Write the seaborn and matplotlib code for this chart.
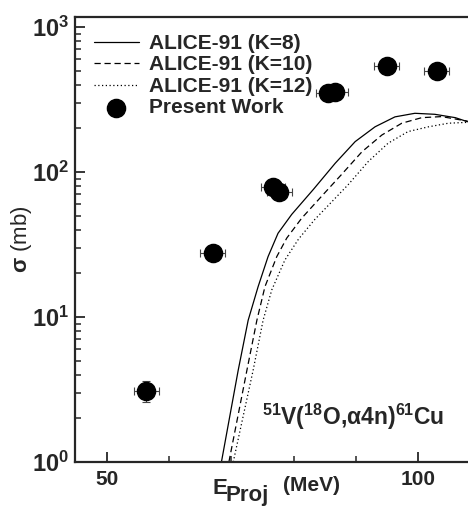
import numpy as np
import pandas as pd
import matplotlib
matplotlib.use("Agg")
import matplotlib.pyplot as plt
import matplotlib.ticker as mticker
import seaborn as sns

# ALICE-91 curves
e_k8 = [68.4, 71.1, 72.7, 74.3, 75.9, 77.5, 79.7, 83.2, 86.7, 89.9, 93.1, 96.3,
        99.5, 102.7, 106.0, 108.0]
s_k8 = [1.0, 4.3, 9.5, 16.2, 26.1, 37.8, 51.0, 76, 115, 162, 205, 240,
        254, 250, 237, 222]
e_k10 = [69.6, 72.5, 74.1, 75.4, 77.3, 78.9, 81.3, 84.5, 87.7, 91.0, 94.2, 97.4,
         100.6, 103.8, 107.0, 108.0]
s_k10 = [1.0, 4.3, 9.5, 16.2, 26.1, 35.0, 48.0, 68, 96, 138, 180, 217,
         237, 241, 228, 224]
e_k12 = [70.3, 73.5, 75.1, 76.5, 78.6, 80.8, 83.4, 86.4, 88.8, 92.0, 95.2, 98.4,
         101.7, 104.9, 108.0]
s_k12 = [1.0, 4.3, 9.5, 15.4, 24.7, 34.5, 47.0, 64, 82, 118, 158, 190,
         205, 217, 220]

# measured points
e_exp = [56.3, 67.0, 76.7, 77.7, 85.6, 86.7, 95.0, 103.0]
s_exp = [3.1, 27.6, 79, 73, 351, 355, 540, 497]
e_err = [2.0, 2.0, 2.0, 2.0, 2.0, 2.0, 2.0, 2.0]
s_err = [0.5, 2.5, 7, 7, 30, 30, 45, 40]

sns.set_style("ticks")
plt.rcParams['font.family'] = ['Liberation Sans', 'DejaVu Sans']
plt.rcParams['font.weight'] = 'bold'
plt.rcParams['mathtext.fontset'] = 'custom'
plt.rcParams['mathtext.rm'] = 'Liberation Sans:bold'
plt.rcParams['mathtext.it'] = 'Liberation Sans:bold'
plt.rcParams['mathtext.bf'] = 'Liberation Sans:bold'
plt.rcParams['mathtext.sf'] = 'Liberation Sans:bold'

fig = plt.figure(figsize=(4.68, 5.07), dpi=100)
ax = fig.add_axes([75 / 468, 45 / 507, 393 / 468, 445 / 507])

sns.lineplot(x=e_k8, y=s_k8, sort=False, color='black', lw=0.9, ax=ax,
             label='ALICE-91 (K=8)')
sns.lineplot(x=e_k10, y=s_k10, sort=False, color='black', lw=0.9, ax=ax,
             linestyle=(0, (5, 3)), label='ALICE-91 (K=10)')
sns.lineplot(x=e_k12, y=s_k12, sort=False, color='black', lw=0.9, ax=ax,
             linestyle=(0, (1, 2)), label='ALICE-91 (K=12)')

ax.errorbar(e_exp, s_exp, xerr=e_err, yerr=s_err, fmt='none', ecolor='#444444',
            elinewidth=0.8, capsize=3, capthick=0.8, zorder=3)
df = pd.DataFrame({"E": e_exp, "sigma": s_exp})
sns.scatterplot(data=df, x="E", y="sigma", color='black', s=170, edgecolor='black',
                zorder=4, ax=ax, label='Present Work')

ax.set_yscale('log')
ax.set_xlim(44.86, 108.04)
ax.set_ylim(1, 1172)
ax.xaxis.set_major_locator(mticker.MultipleLocator(50))
ax.xaxis.set_minor_locator(mticker.MultipleLocator(10))
ax.yaxis.set_major_locator(mticker.LogLocator(base=10))
ax.yaxis.set_minor_locator(mticker.LogLocator(base=10, subs=np.arange(2, 10)))
ax.yaxis.set_minor_formatter(mticker.NullFormatter())

ax.tick_params(axis='both', which='major', direction='in', length=7, width=1.3)
ax.tick_params(axis='both', which='minor', direction='in', length=4, width=1.1)
ax.tick_params(axis='x', labelsize=15, pad=6)
ax.tick_params(axis='y', labelsize=17, pad=4)
for side in ['left', 'bottom', 'top']:
    ax.spines[side].set_linewidth(1.6)
ax.spines['right'].set_visible(False)

ax.set_xlabel('')
ax.set_ylabel(r'$\sigma$ (mb)', fontsize=16, labelpad=-1)

# x label built from pieces so the subscript keeps full size
ax.text(0.349, -0.072, 'E', transform=ax.transAxes, fontsize=16, va='baseline')
ax.text(0.384, -0.088, 'Proj', transform=ax.transAxes, fontsize=16, va='baseline')
ax.text(0.530, -0.066, '(MeV)', transform=ax.transAxes, fontsize=15, va='baseline')

ax.text(0.476, 0.083, r'$^{51}$V($^{18}$O,$\alpha$4n)$^{61}$Cu', transform=ax.transAxes,
        fontsize=16.5, va='baseline')

ax.legend(loc='upper left', frameon=False, fontsize=15, handlelength=2.2,
          handletextpad=0.45, labelspacing=0.12, borderaxespad=0.3,
          bbox_to_anchor=(0.01, 0.995))

fig.savefig('out.png', dpi=100)
